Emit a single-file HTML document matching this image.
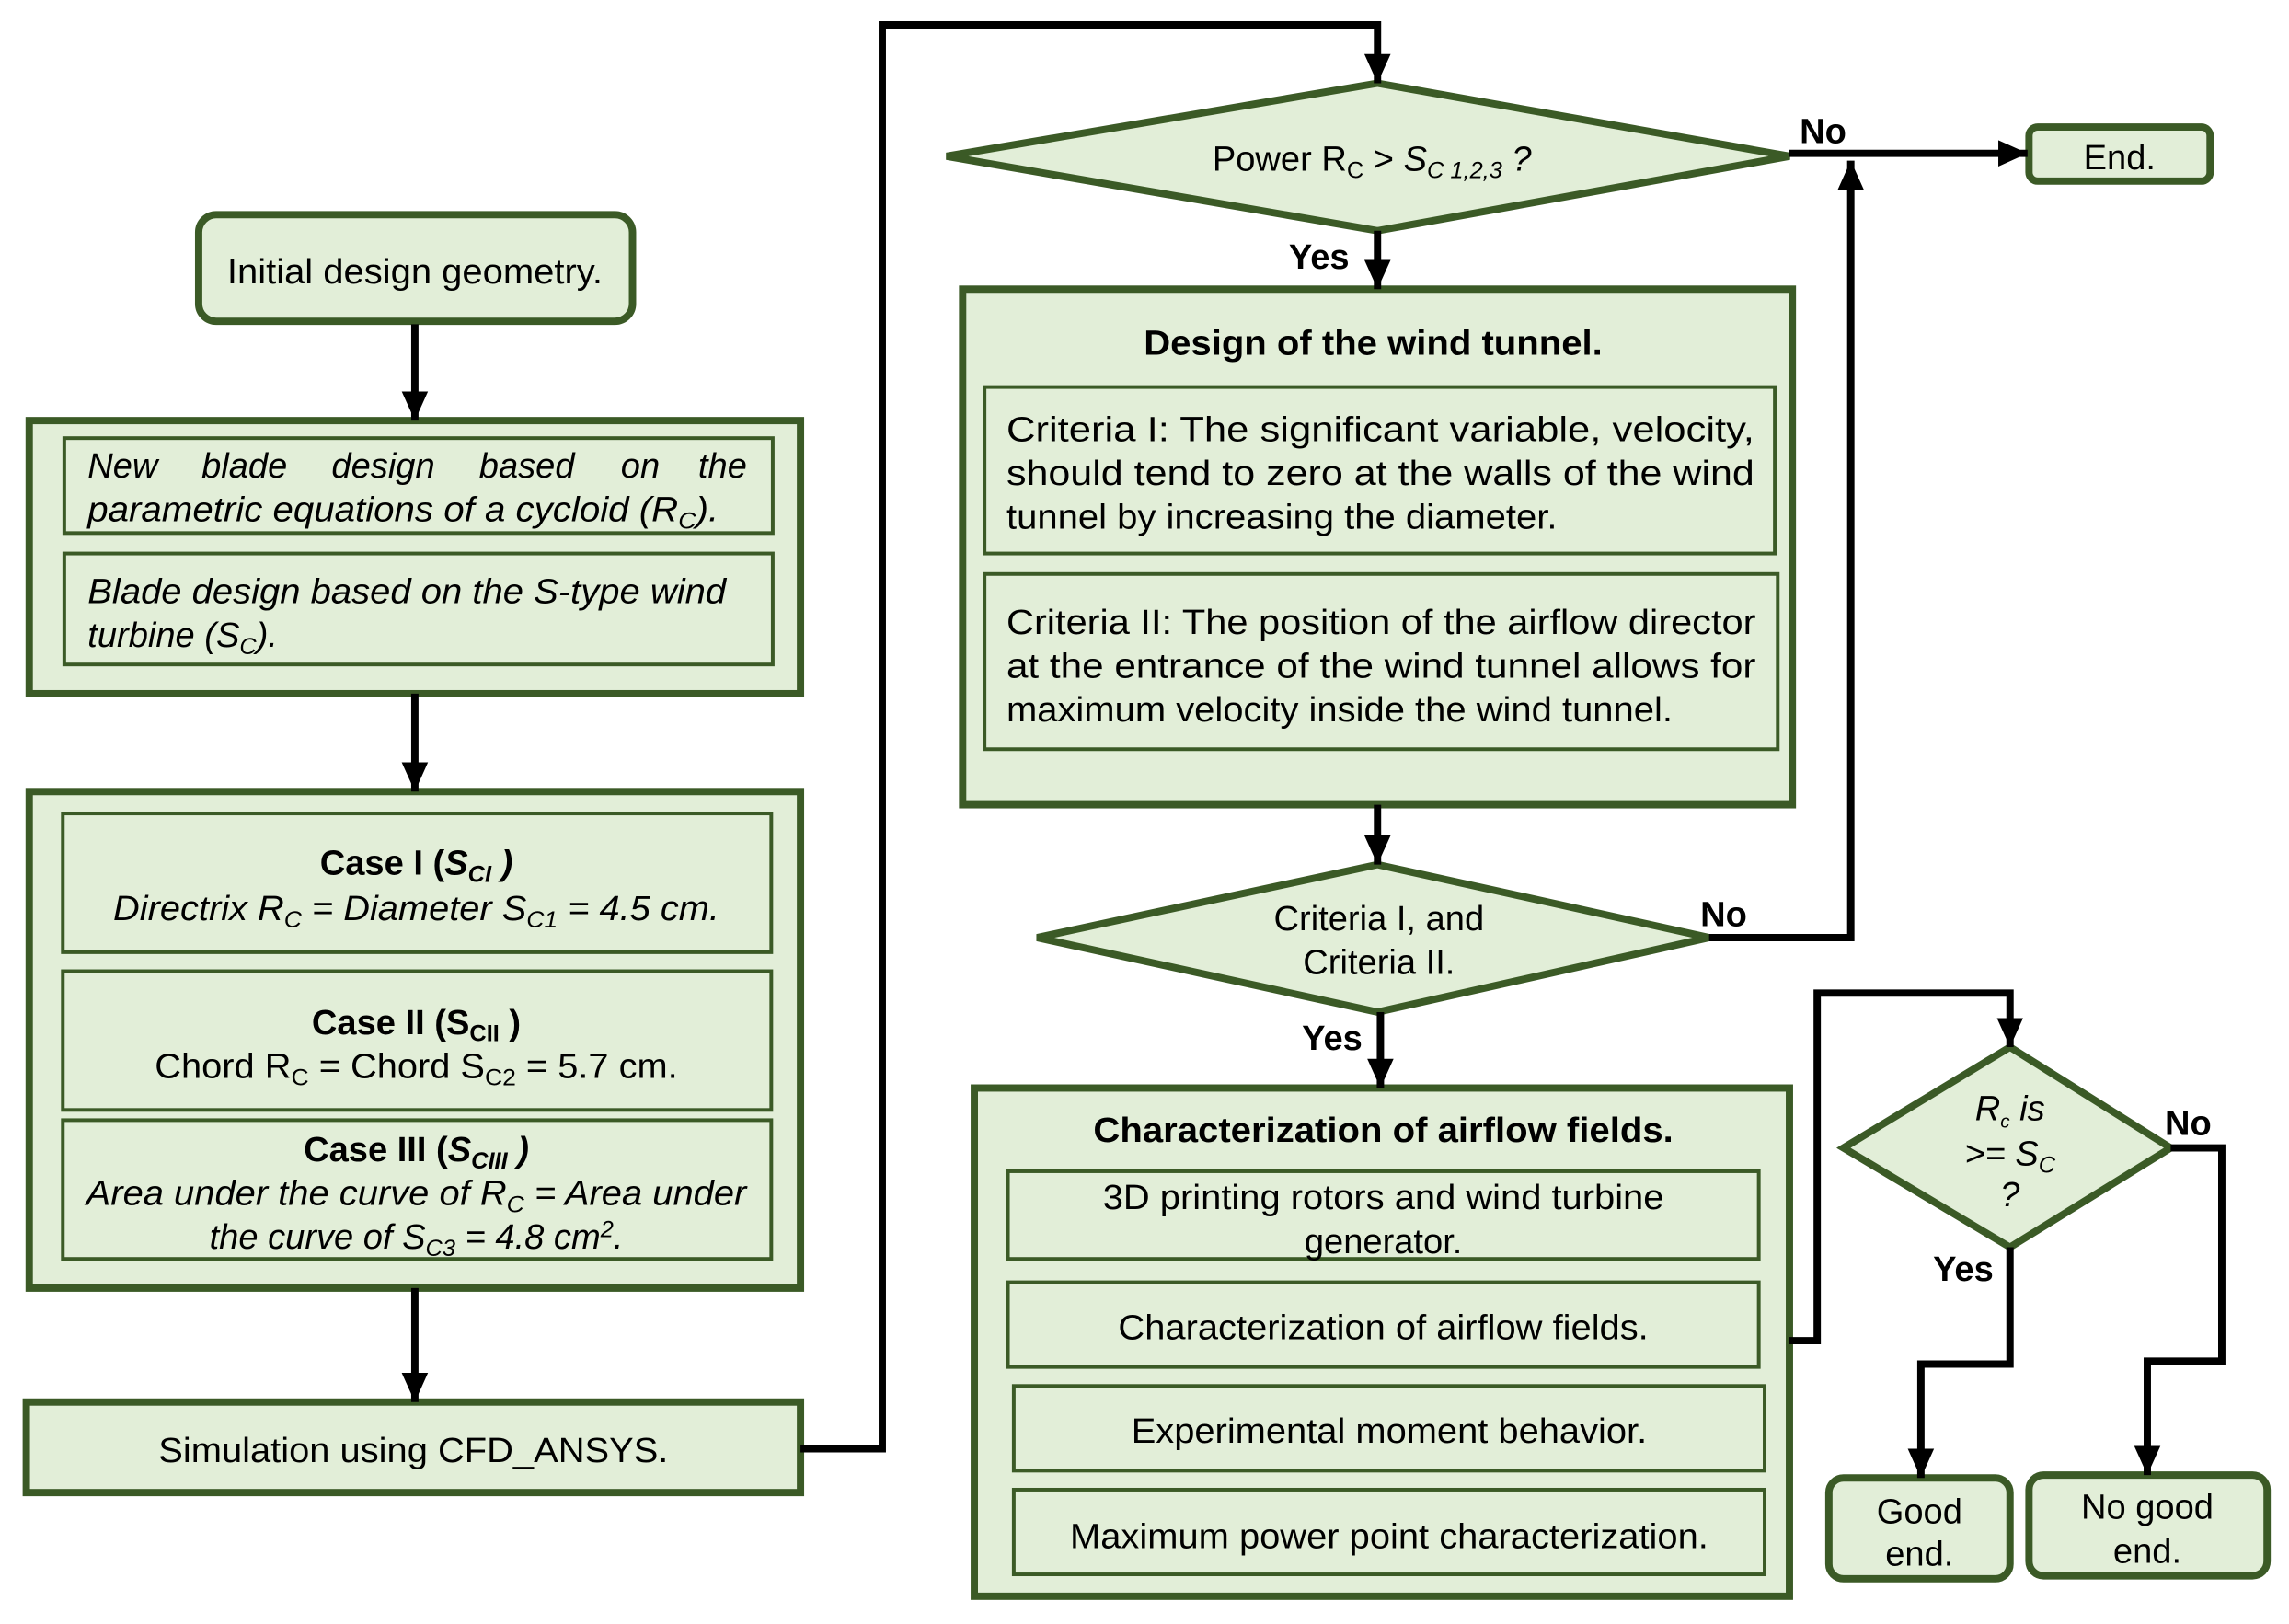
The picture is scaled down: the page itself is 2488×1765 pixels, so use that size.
<!DOCTYPE html>
<html><head><meta charset="utf-8"><style>
html,body{margin:0;padding:0;background:#fff;}
svg{display:block;}
text{font-family:"Liberation Sans",Arial,sans-serif;font-size:24px;fill:#000;}
.b{font-weight:bold;}
.i{font-style:italic;}
</style></head><body>
<svg width="2488" height="1765" viewBox="0 0 1567 1112" preserveAspectRatio="none" xmlns="http://www.w3.org/2000/svg">
<defs>
<marker id="ah" markerUnits="userSpaceOnUse" markerWidth="20" markerHeight="20" viewBox="0 0 20 20" refX="20" refY="10" orient="auto">
<path d="M0,1 L20,10 L0,19 Z" fill="#000"/>
</marker>
</defs>
<g fill="#e2eed8" stroke="#3b5a26">
<rect x="136" y="147" width="297" height="73" rx="12" stroke-width="5"/>
<rect x="20" y="288" width="528" height="187" stroke-width="5"/>
<rect x="44" y="300" width="485" height="65" stroke-width="2.5"/>
<rect x="44" y="379" width="485" height="76" stroke-width="2.5"/>
<rect x="20" y="542" width="528" height="340" stroke-width="5"/>
<rect x="43" y="557" width="485" height="95" stroke-width="2.5"/>
<rect x="43" y="665" width="485" height="95" stroke-width="2.5"/>
<rect x="43" y="767" width="485" height="95" stroke-width="2.5"/>
<rect x="18" y="960" width="530" height="62" stroke-width="5"/>
<polygon points="648,107 943,57 1225,107 943,158" stroke-width="5"/>
<rect x="1389" y="87" width="124" height="37" rx="6" stroke-width="5"/>
<rect x="659" y="198" width="568" height="353" stroke-width="5"/>
<rect x="674" y="265" width="541" height="114" stroke-width="2.5"/>
<rect x="674" y="393" width="543" height="120" stroke-width="2.5"/>
<polygon points="710,642 943,592 1170,642 943,693" stroke-width="5"/>
<rect x="667" y="745" width="558" height="348" stroke-width="5"/>
<rect x="690" y="802" width="514" height="60" stroke-width="2.5"/>
<rect x="690" y="878" width="514" height="58" stroke-width="2.5"/>
<rect x="694" y="949" width="514" height="58" stroke-width="2.5"/>
<rect x="694" y="1020" width="514" height="58" stroke-width="2.5"/>
<polygon points="1262,786 1376,717 1486,786 1376,854" stroke-width="5"/>
<rect x="1252" y="1012" width="124" height="69" rx="10" stroke-width="5"/>
<rect x="1389" y="1010" width="163" height="69" rx="10" stroke-width="5"/>
</g>
<g fill="none" stroke="#000" stroke-width="5">
<line x1="284" y1="222" x2="284" y2="288" marker-end="url(#ah)"/>
<line x1="284" y1="475" x2="284" y2="542" marker-end="url(#ah)"/>
<line x1="284" y1="882" x2="284" y2="960" marker-end="url(#ah)"/>
<polyline points="548,992 604,992 604,17 943,17 943,57" marker-end="url(#ah)"/>
<line x1="1225" y1="105" x2="1388" y2="105" marker-end="url(#ah)"/>
<line x1="943" y1="158" x2="943" y2="198" marker-end="url(#ah)"/>
<line x1="943" y1="551" x2="943" y2="592" marker-end="url(#ah)"/>
<polyline points="1170,642 1267,642 1267,110" marker-end="url(#ah)"/>
<line x1="945" y1="693" x2="945" y2="745" marker-end="url(#ah)"/>
<polyline points="1225,918 1244,918 1244,680 1376,680 1376,717" marker-end="url(#ah)"/>
<polyline points="1486,786 1521,786 1521,932 1470,932 1470,1010" marker-end="url(#ah)"/>
<polyline points="1376,854 1376,934 1315,934 1315,1012" marker-end="url(#ah)"/>
</g>
<text x="284" y="194" text-anchor="middle" textLength="257" lengthAdjust="spacingAndGlyphs">Initial design geometry.</text>
<text class="i" y="327"><tspan x="60">New</tspan> <tspan x="138">blade</tspan> <tspan x="227">design</tspan> <tspan x="328">based</tspan> <tspan x="425">on</tspan> <tspan x="478">the</tspan></text>
<text class="i" x="60" y="357" textLength="432" lengthAdjust="spacingAndGlyphs">parametric equations of a cycloid (R<tspan font-size="16" dy="5">C</tspan><tspan dy="-5">).</tspan></text>
<text class="i" x="60" y="413" textLength="437" lengthAdjust="spacingAndGlyphs">Blade design based on the S-type wind</text>
<text class="i" x="60" y="443">turbine (S<tspan font-size="16" dy="5">C</tspan><tspan dy="-5">).</tspan></text>

<text class="b" x="285" y="599" text-anchor="middle">Case I (<tspan class="i">S<tspan font-size="16" dy="5">CI</tspan><tspan dy="-5"> )</tspan></tspan></text>
<text class="i" x="285" y="630" text-anchor="middle" textLength="415" lengthAdjust="spacingAndGlyphs">Directrix R<tspan font-size="16" dy="5">C</tspan><tspan dy="-5"> = Diameter S</tspan><tspan font-size="16" dy="5">C1</tspan><tspan dy="-5"> = 4.5 cm.</tspan></text>
<text class="b" x="285" y="708" text-anchor="middle">Case II (S<tspan font-size="16" dy="5">CII</tspan><tspan dy="-5"> )</tspan></text>
<text x="285" y="738" text-anchor="middle" textLength="358" lengthAdjust="spacingAndGlyphs">Chord R<tspan font-size="16" dy="5">C</tspan><tspan dy="-5"> = Chord S</tspan><tspan font-size="16" dy="5">C2</tspan><tspan dy="-5"> = 5.7 cm.</tspan></text>
<text class="b" x="285" y="795" text-anchor="middle">Case III (<tspan class="i">S<tspan font-size="16" dy="5">CIII</tspan><tspan dy="-5"> )</tspan></tspan></text>
<text class="i" x="285" y="825" text-anchor="middle" textLength="452" lengthAdjust="spacingAndGlyphs">Area under the curve of R<tspan font-size="16" dy="5">C</tspan><tspan dy="-5"> = Area under</tspan></text>
<text class="i" x="285" y="855" text-anchor="middle">the curve of S<tspan font-size="16" dy="5">C3</tspan><tspan dy="-5"> = 4.8 cm</tspan><tspan font-size="16" dy="-8">2</tspan><tspan dy="8">.</tspan></text>
<text x="283" y="1001" text-anchor="middle" textLength="349" lengthAdjust="spacingAndGlyphs">Simulation using CFD_ANSYS.</text>

<text x="830" y="117">Power R<tspan font-size="16" dy="5">C</tspan><tspan dy="-5"> &gt; </tspan><tspan class="i">S<tspan font-size="16" dy="5">C 1,2,3</tspan><tspan dy="-5"> ?</tspan></tspan></text>
<text class="b" x="1248" y="98" text-anchor="middle">No</text>
<text x="1451" y="116" text-anchor="middle">End.</text>
<text class="b" x="903" y="184" text-anchor="middle">Yes</text>
<text class="b" x="940" y="243" text-anchor="middle" textLength="314" lengthAdjust="spacingAndGlyphs">Design of the wind tunnel.</text>
<text x="689" y="302" textLength="512" lengthAdjust="spacingAndGlyphs">Criteria I: The significant variable, velocity,</text>
<text x="689" y="332" textLength="512" lengthAdjust="spacingAndGlyphs">should tend to zero at the walls of the wind</text>
<text x="689" y="362" textLength="377" lengthAdjust="spacingAndGlyphs">tunnel by increasing the diameter.</text>
<text x="689" y="434" textLength="513" lengthAdjust="spacingAndGlyphs">Criteria II: The position of the airflow director</text>
<text x="689" y="464" textLength="513" lengthAdjust="spacingAndGlyphs">at the entrance of the wind tunnel allows for</text>
<text x="689" y="494" textLength="456" lengthAdjust="spacingAndGlyphs">maximum velocity inside the wind tunnel.</text>
<text x="944" y="637" text-anchor="middle">Criteria I, and</text>
<text x="944" y="667" text-anchor="middle">Criteria II.</text>
<text class="b" x="1180" y="634" text-anchor="middle">No</text>
<text class="b" x="912" y="719" text-anchor="middle">Yes</text>
<text class="b" x="947" y="782" text-anchor="middle" textLength="397" lengthAdjust="spacingAndGlyphs">Characterization of airflow fields.</text>
<text x="947" y="828" text-anchor="middle" textLength="384" lengthAdjust="spacingAndGlyphs">3D printing rotors and wind turbine</text>
<text x="947" y="858" text-anchor="middle">generator.</text>
<text x="947" y="917" text-anchor="middle" textLength="363" lengthAdjust="spacingAndGlyphs">Characterization of airflow fields.</text>
<text x="951" y="988" text-anchor="middle" textLength="353" lengthAdjust="spacingAndGlyphs">Experimental moment behavior.</text>
<text x="951" y="1060" text-anchor="middle" textLength="437" lengthAdjust="spacingAndGlyphs">Maximum power point characterization.</text>

<text class="i" x="1376" y="767" text-anchor="middle">R<tspan font-size="13" dy="5">c</tspan><tspan dy="-5"> is</tspan></text>
<text class="i" x="1376" y="798" text-anchor="middle">&gt;= S<tspan font-size="16" dy="5">C</tspan></text>
<text class="i" x="1376" y="826" text-anchor="middle">?</text>
<text class="b" x="1498" y="777" text-anchor="middle">No</text>
<text class="b" x="1344" y="877" text-anchor="middle">Yes</text>
<text x="1314" y="1043" text-anchor="middle">Good</text>
<text x="1314" y="1072" text-anchor="middle">end.</text>
<text x="1470" y="1040" text-anchor="middle">No good</text>
<text x="1470" y="1070" text-anchor="middle">end.</text>
</svg>
</body></html>
